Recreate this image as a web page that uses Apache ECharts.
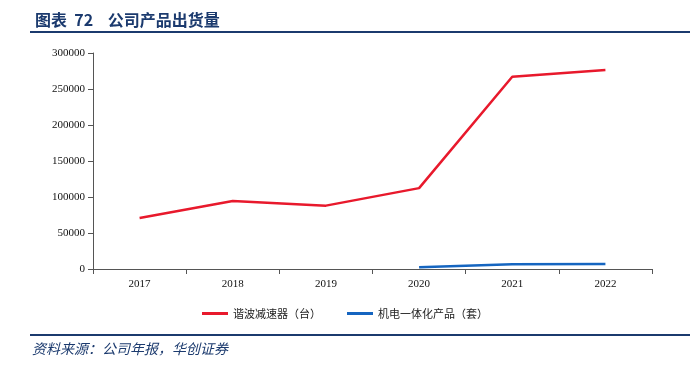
<!DOCTYPE html>
<html>
<head>
<meta charset="utf-8">
<script src="https://cdn.jsdelivr.net/npm/echarts@6/dist/echarts.min.js"></script>
<style>
html, body { margin: 0; padding: 0; background: #fff; }
#main { width: 690px; height: 369px; }
</style>
</head>
<body>
<div id="main"></div>
<script>
var years = ['2017', '2018', '2019', '2020', '2021', '2022'];
var reducer = [70800, 94400, 88000, 112300, 267000, 276500];   // 谐波减速器（台）
var mechatronic = [null, null, null, 2400, 6500, 7000];        // 机电一体化产品（套）
var navy = '#1b3a6e';

var option = {
    backgroundColor: '#fff',
    animation: false,
    title: {
        text: '图表  72    公司产品出货量',
        left: 30,
        top: 7,
        textStyle: {
            fontFamily: 'Noto Sans CJK SC',
            fontWeight: 'bold',
            fontSize: 16,
            color: navy
        }
    },
    graphic: [
        // 标题下横线
        { type: 'line', shape: { x1: 30, y1: 32, x2: 690, y2: 32 }, style: { stroke: navy, lineWidth: 2 } },
        // 资料来源上横线
        { type: 'line', shape: { x1: 30, y1: 335, x2: 690, y2: 335 }, style: { stroke: navy, lineWidth: 2 } },
        {
            type: 'text', left: 32, top: 342,
            style: {
                text: '资料来源：公司年报，华创证券',
                fill: navy,
                font: 'italic 14px "Noto Sans CJK SC"'
            }
        }
    ],
    legend: {
        top: 303,
        left: 'center',
        itemWidth: 26,
        itemHeight: 3,
        itemGap: 26,
        icon: 'rect',
        textStyle: { fontFamily: 'Noto Sans CJK SC', fontSize: 11, color: '#222' },
        data: ['谐波减速器（台）', '机电一体化产品（套）']
    },
    grid: { left: 93, right: 38, top: 53, bottom: 100 },
    xAxis: {
        type: 'category',
        data: years,
        boundaryGap: true,
        axisLine: { lineStyle: { color: '#555', width: 1 } },
        axisTick: { show: true, alignWithLabel: false, length: 5, lineStyle: { color: '#555' } },
        axisLabel: { fontFamily: 'Liberation Serif', fontSize: 11, color: '#111', margin: 10 }
    },
    yAxis: {
        type: 'value',
        min: 0,
        max: 300000,
        interval: 50000,
        axisLine: { show: true, lineStyle: { color: '#555', width: 1 } },
        axisTick: { show: true, length: 5, lineStyle: { color: '#555' } },
        splitLine: { show: false },
        axisLabel: {
            fontFamily: 'Liberation Serif', fontSize: 11, color: '#111', margin: 8,
            formatter: function (v) { return String(v); }
        }
    },
    series: [
        {
            name: '谐波减速器（台）',
            type: 'line',
            data: reducer,
            symbol: 'none',
            lineStyle: { color: '#e8192c', width: 2.5 },
            itemStyle: { color: '#e8192c' }
        },
        {
            name: '机电一体化产品（套）',
            type: 'line',
            data: mechatronic,
            symbol: 'none',
            lineStyle: { color: '#1565c0', width: 2.5 },
            itemStyle: { color: '#1565c0' }
        }
    ]
};

echarts.init(document.getElementById('main')).setOption(option);
</script>
</body>
</html>
